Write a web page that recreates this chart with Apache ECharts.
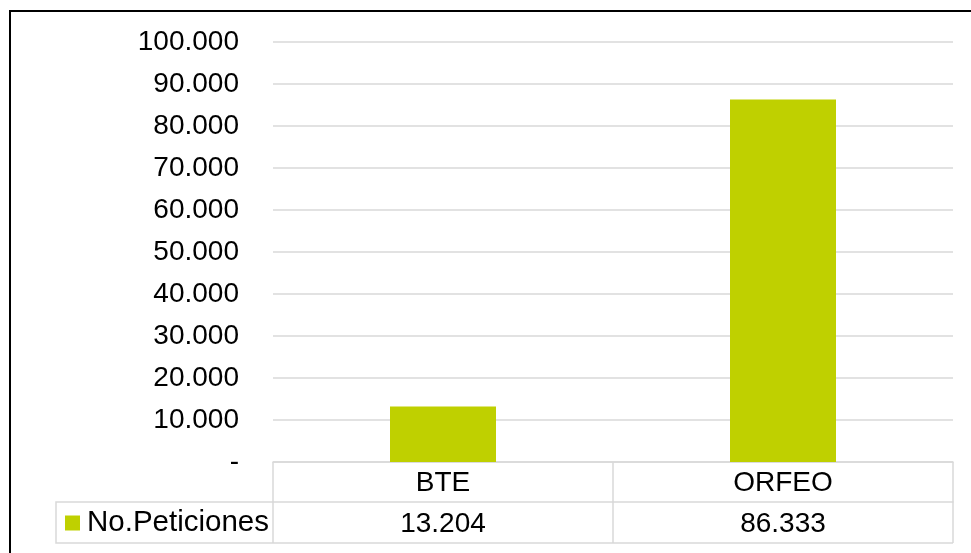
<!DOCTYPE html>
<html>
<head>
<meta charset="utf-8">
<script src="https://cdn.jsdelivr.net/npm/echarts@6/dist/echarts.min.js"></script>
<style>
  html, body { margin: 0; padding: 0; background: #fff; }
  #chart { width: 971px; height: 553px; }
</style>
</head>
<body>
<div id="chart"></div>
<script>
const FONT = 'Liberation Sans, Arial, sans-serif';
const FONT_SIZE = 28;
const GRID_COLOR = '#d9d9d9';
const BAR_COLOR = '#bfd000';

const categories = ['BTE', 'ORFEO'];
const peticiones = [13204, 86333];
const seriesName = 'No.Peticiones';

// 86333 -> "86.333", 0 -> "-"
const fmt = (v) => (v === 0 ? '-' : String(v).replace(/\B(?=(\d{3})+(?!\d))/g, '.'));

const chart = echarts.init(document.getElementById('chart'));

const option = {
  animation: false,
  grid: { left: 273, right: 18, top: 42, bottom: 91 },
  legend: {
    left: 65,
    top: 508,
    padding: 0,
    itemWidth: 15,
    itemHeight: 15,
    itemGap: 0,
    icon: 'rect',
    textStyle: { fontFamily: FONT, fontSize: 29.5, color: '#000', lineHeight: 30, padding: [0, 0, 0, 2] },
    data: [seriesName],
  },
  xAxis: [
    {
      type: 'category',
      data: categories,
      axisLine: { lineStyle: { color: GRID_COLOR, width: 1.5 } },
      axisTick: { show: true, interval: 0, length: 81, lineStyle: { color: GRID_COLOR, width: 1.5 } },
      axisLabel: { fontFamily: FONT, fontSize: FONT_SIZE, color: '#000', margin: 7 },
    },
    {
      type: 'category',
      position: 'bottom',
      offset: 40,
      data: peticiones.map(fmt),
      axisLine: { lineStyle: { color: GRID_COLOR, width: 1.5 } },
      axisTick: { show: false },
      axisLabel: { fontFamily: FONT, fontSize: FONT_SIZE, color: '#000', margin: 8 },
    },
  ],
  yAxis: {
    type: 'value',
    min: 0,
    max: 100000,
    interval: 10000,
    axisLine: { show: false },
    axisTick: { show: false },
    splitLine: { lineStyle: { color: GRID_COLOR, width: 1.5 } },
    axisLabel: {
      fontFamily: FONT,
      fontSize: FONT_SIZE,
      color: '#000',
      margin: 34,
      formatter: fmt,
    },
  },
  series: [
    {
      name: seriesName,
      type: 'bar',
      data: peticiones,
      barWidth: 106,
      itemStyle: { color: BAR_COLOR },
    },
  ],
  graphic: [
    // outer frame
    {
      type: 'rect',
      shape: { x: 10, y: 11, width: 975, height: 560 },
      style: { fill: 'none', stroke: '#000', lineWidth: 2 },
      silent: true,
    },
    // data table: bottom line and legend cell
    {
      type: 'polyline',
      shape: { points: [[273, 502], [56, 502], [56, 543], [953, 543]] },
      style: { fill: 'none', stroke: GRID_COLOR, lineWidth: 1.5 },
      silent: true,
    },
  ],
};

chart.setOption(option);
</script>
</body>
</html>
